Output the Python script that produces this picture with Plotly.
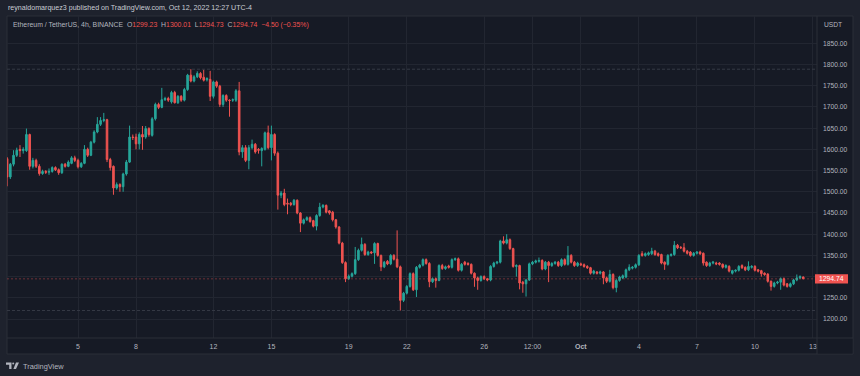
import pandas as pd
import plotly.graph_objects as go

# ---------------- data (ETH/USDT 4h, BINANCE) ----------------
start_time = "2022-09-01 08:00"
n_candles = 248

open_ = [
    1578,1535,1565,1586,1600,1597,1597,1635,1560,1574,
    1560,1543,1548,1546,1548,1557,1552,1545,1565,1560,
    1567,1580,1574,1559,1567,1600,1586,1617,1641,1659,
    1668,1670,1576,1560,1509,1517,1512,1542,1570,1629,
    1629,1613,1635,1629,1649,1633,1672,1706,1699,1717,
    1720,1712,1734,1710,1725,1716,1741,1775,1761,1771,
    1779,1770,1764,1765,1725,1759,1749,1706,1727,1716,
    1716,1716,1738,1594,1604,1574,1604,1612,1600,1597,
    1600,1639,1604,1635,1591,1492,1497,1473,1473,1470,
    1480,1450,1426,1434,1439,1432,1419,1444,1464,1468,
    1455,1452,1434,1417,1379,1333,1295,1301,1307,1340,
    1362,1376,1352,1358,1356,1378,1350,1323,1336,1330,
    1350,1341,1323,1244,1261,1277,1307,1269,1322,1327,
    1340,1331,1288,1295,1291,1326,1319,1325,1322,1340,
    1342,1315,1334,1331,1329,1308,1297,1291,1300,1295,
    1292,1324,1332,1334,1384,1379,1387,1366,1324,1326,
    1287,1283,1292,1330,1334,1336,1338,1318,1334,1326,
    1331,1334,1326,1340,1329,1350,1334,1326,1330,1328,
    1324,1321,1308,1311,1308,1311,1297,1289,1305,1274,
    1291,1297,1299,1316,1320,1322,1328,1354,1350,1352,
    1354,1360,1354,1352,1334,1329,1350,1352,1374,1369,
    1368,1360,1358,1350,1355,1358,1355,1334,1326,1332,
    1332,1332,1329,1322,1324,1308,1313,1315,1326,1322,
    1316,1322,1324,1316,1314,1308,1306,1289,1277,1285,
    1287,1295,1283,1277,1283,1292,1297,1299.23,
]
high = [
    1582,1568,1598,1604,1610,1605,1649,1637,1580,1578,
    1565,1552,1551,1555,1560,1560,1555,1567,1568,1574,
    1584,1585,1578,1570,1610,1604,1620,1645,1676,1676,
    1686,1672,1580,1562,1522,1520,1545,1575,1656,1635,
    1637,1640,1655,1655,1652,1676,1710,1710,1745,1724,
    1724,1738,1738,1728,1728,1745,1778,1789,1775,1784,
    1782,1788,1770,1785,1762,1762,1752,1730,1730,1718,
    1720,1742,1759,1610,1610,1610,1623,1615,1603,1605,
    1642,1656,1656,1638,1595,1502,1507,1484,1476,1483,
    1482,1452,1437,1442,1442,1434,1447,1474,1471,1470,
    1457,1455,1436,1419,1382,1336,1305,1310,1370,1366,
    1392,1379,1361,1360,1381,1380,1352,1337,1339,1353,
    1353,1409,1326,1264,1280,1310,1310,1325,1330,1343,
    1343,1334,1298,1298,1329,1330,1326,1328,1343,1345,
    1345,1332,1337,1334,1331,1310,1300,1303,1303,1297,
    1327,1335,1337,1387,1395,1400,1390,1368,1329,1328,
    1290,1295,1333,1337,1340,1345,1341,1337,1337,1334,
    1337,1337,1343,1343,1372,1353,1337,1335,1333,1331,
    1327,1323,1316,1313,1314,1313,1300,1316,1308,1294,
    1302,1305,1319,1329,1325,1331,1353,1360,1357,1359,
    1368,1363,1357,1354,1336,1353,1355,1384,1377,1372,
    1379,1363,1360,1358,1360,1361,1357,1336,1335,1337,
    1335,1334,1331,1329,1327,1316,1317,1327,1329,1324,
    1336,1327,1327,1318,1316,1310,1308,1291,1288,1290,
    1298,1298,1285,1286,1295,1305,1303,1300.01,
]
low = [
    1513,1530,1560,1582,1582,1590,1594,1552,1555,1556,
    1538,1540,1542,1540,1545,1549,1540,1542,1557,1558,
    1565,1570,1555,1556,1565,1582,1584,1614,1638,1655,
    1664,1570,1550,1493,1505,1500,1500,1538,1568,1622,
    1600,1600,1599,1625,1630,1630,1668,1695,1697,1714,
    1712,1708,1708,1707,1712,1713,1738,1758,1758,1768,
    1765,1760,1760,1714,1720,1745,1700,1700,1712,1677,
    1712,1712,1586,1580,1570,1553,1600,1590,1590,1560,
    1597,1600,1574,1585,1458,1485,1466,1447,1466,1467,
    1447,1405,1423,1431,1427,1416,1409,1441,1461,1449,
    1446,1430,1413,1376,1330,1287,1292,1298,1304,1337,
    1359,1349,1349,1353,1330,1347,1313,1320,1327,1327,
    1338,1320,1220,1240,1258,1274,1266,1252,1319,1324,
    1328,1275,1285,1274,1289,1316,1316,1319,1319,1337,
    1312,1312,1326,1326,1305,1276,1269,1288,1292,1289,
    1289,1321,1329,1331,1376,1376,1363,1321,1300,1270,
    1262,1253,1290,1327,1331,1333,1315,1315,1287,1323,
    1328,1323,1323,1326,1326,1331,1323,1323,1325,1321,
    1318,1305,1305,1305,1305,1282,1285,1286,1270,1263,
    1288,1294,1296,1313,1317,1319,1325,1347,1347,1349,
    1351,1349,1347,1329,1316,1326,1347,1349,1365,1365,
    1357,1352,1347,1347,1352,1351,1326,1323,1323,1329,
    1327,1326,1319,1319,1310,1305,1310,1312,1318,1313,
    1313,1319,1312,1310,1300,1302,1286,1267,1274,1282,
    1269,1277,1274,1274,1280,1289,1294,1294.73,
]
close = [
    1535,1565,1586,1598,1597,1600,1635,1560,1574,1560,
    1543,1548,1546,1548,1557,1552,1545,1565,1560,1570,
    1580,1574,1559,1567,1600,1586,1617,1641,1659,1668,
    1670,1576,1557,1509,1517,1512,1542,1570,1629,1628,
    1613,1635,1629,1649,1635,1672,1706,1699,1717,1720,
    1716,1734,1710,1725,1716,1741,1775,1761,1771,1779,
    1769,1763,1767,1725,1759,1749,1706,1727,1716,1715,
    1717,1738,1594,1604,1574,1604,1612,1594,1598,1602,
    1639,1604,1635,1591,1492,1497,1470,1471,1470,1480,
    1450,1426,1434,1439,1430,1419,1444,1464,1468,1452,
    1450,1434,1417,1379,1333,1295,1301,1307,1340,1362,
    1376,1352,1358,1356,1378,1350,1323,1334,1330,1350,
    1341,1323,1244,1261,1277,1307,1269,1322,1327,1340,
    1331,1288,1295,1291,1326,1319,1323,1322,1340,1342,
    1315,1329,1329,1329,1308,1297,1291,1300,1295,1292,
    1324,1332,1334,1384,1379,1387,1366,1324,1326,1285,
    1283,1292,1330,1334,1337,1338,1318,1334,1326,1331,
    1334,1326,1340,1329,1350,1334,1326,1332,1328,1324,
    1321,1308,1313,1308,1311,1297,1289,1305,1274,1291,
    1299,1302,1316,1322,1322,1328,1350,1350,1354,1356,
    1360,1352,1350,1332,1329,1350,1352,1374,1368,1368,
    1360,1355,1350,1355,1358,1354,1332,1326,1332,1334,
    1330,1329,1322,1326,1313,1314,1315,1324,1321,1316,
    1324,1324,1315,1313,1307,1305,1289,1277,1285,1287,
    1295,1280,1277,1283,1292,1297,1300,1294.74,
]

x_tick_dates = ["2022-09-05", "2022-09-08", "2022-09-12", "2022-09-15", "2022-09-19",
                "2022-09-22", "2022-09-26", "2022-09-28 12:00", "2022-10-01", "2022-10-04",
                "2022-10-07", "2022-10-10", "2022-10-13"]
x_tick_labels = ["5", "8", "12", "15", "19", "22", "26", "12:00", "<b>Oct</b>", "4", "7", "10", "13"]
y_ticks = [1200, 1250, 1300, 1350, 1400, 1450, 1500, 1550, 1600, 1650, 1700, 1750, 1800, 1850]
# the 1300.00 label is hidden behind the last-price tag on the original
y_tick_labels = ["" if v == 1300 else f"{v:.2f}" for v in y_ticks]

header_text = "reynaldomarquez3 published on TradingView.com, Oct 12, 2022 12:27 UTC-4"
symbol_text = "Ethereum / TetherUS, 4h, BINANCE"
change_text = "\u22124.50 (\u22120.35%)"

# ---------------- styling ----------------
OUTER = "#1e222d"
PANEL = "#161a25"
GRID = "#222631"
BORDER = "#2a2e39"
TEXT = "#b2b5be"
UP = "#26a69a"
DOWN = "#ef5350"
FONT = "Liberation Sans, Arial, sans-serif"

W, H = 860, 376
PL, PR, PT, PB = 7, 817, 16, 338   # plot area in pixels


def px(x):
    return (x - PL) / (PR - PL)


def py(y):
    return (PB - y) / (PB - PT)


times = pd.date_range(start_time, periods=n_candles, freq="4h")

fig = go.Figure()
fig.add_trace(go.Candlestick(
    x=times, open=open_, high=high, low=low, close=close,
    increasing=dict(line=dict(color=UP, width=1), fillcolor=UP),
    decreasing=dict(line=dict(color=DOWN, width=1), fillcolor=DOWN),
    whiskerwidth=0, hoverinfo="skip", showlegend=False,
))

last_price = close[-1]
hi_all = max(high)
lo_all = min(low)

shapes = [
    # panel background + border
    dict(type="rect", xref="paper", yref="paper", x0=px(7), x1=px(853), y0=py(354), y1=py(16),
         fillcolor=PANEL, line=dict(color=BORDER, width=1), layer="below"),
    # high / low dashed lines
    dict(type="line", xref="paper", yref="y", x0=0, x1=1, y0=hi_all, y1=hi_all,
         line=dict(color="#363a46", width=1, dash="3px,2px")),
    dict(type="line", xref="paper", yref="y", x0=0, x1=1, y0=lo_all, y1=lo_all,
         line=dict(color="#363a46", width=1, dash="3px,2px")),
    # last price dotted line
    dict(type="line", xref="paper", yref="y", x0=0, x1=1, y0=last_price, y1=last_price,
         line=dict(color="rgba(239,83,80,0.4)", width=1, dash="2px,2px")),
    # cover for the time-axis corner (clips the last tick label)
    dict(type="rect", xref="paper", yref="paper", x0=px(817.5), x1=px(852.5), y0=py(353.5), y1=py(338.5),
         fillcolor=PANEL, line=dict(width=0), layer="above"),
    # separators
    dict(type="line", xref="paper", yref="paper", x0=px(817), x1=px(817), y0=py(354), y1=py(16),
         line=dict(color=BORDER, width=1), layer="above"),
    dict(type="line", xref="paper", yref="paper", x0=px(7), x1=px(853), y0=py(338), y1=py(338),
         line=dict(color=BORDER, width=1), layer="above"),
    # last price label box
    dict(type="rect", xref="paper", yref="y", x0=px(815), x1=px(848),
         y0=last_price - 4.6 / 0.4242, y1=last_price + 4.6 / 0.4242,
         fillcolor="#f05350", line=dict(width=0), layer="above"),
]


# TradingView logo glyph
def path(pts):
    return "M " + " L ".join(f"{px(a):.5f},{py(b):.5f}" for a, b in pts) + " Z"


shapes += [
    dict(type="path", xref="paper", yref="paper",
         path=path([(6, 362.5), (11.5, 362.5), (11.5, 369), (9.2, 369), (9.2, 364.7), (6, 364.7)]),
         fillcolor=TEXT, line=dict(width=0)),
    dict(type="circle", xref="paper", yref="paper", x0=px(12.2), x1=px(14.2), y0=py(364.6), y1=py(362.6),
         fillcolor=TEXT, line=dict(width=0)),
    dict(type="path", xref="paper", yref="paper",
         path=path([(16.0, 362.5), (19.0, 362.5), (16.0, 369), (13.4, 369)]),
         fillcolor=TEXT, line=dict(width=0)),
]

red = lambda s: f"<span style='color:{DOWN}'>{s}</span>"
legend_html = (f"{symbol_text}  O{red(f'{open_[-1]:.2f}')}  H{red(f'{high[-1]:.2f}')}"
               f"  L{red(f'{low[-1]:.2f}')}  C{red(f'{close[-1]:.2f}')}  {red(change_text)}")

annotations = [
    dict(text=header_text, xref="paper", yref="paper", x=px(6), y=py(8.5), xanchor="left",
         yanchor="middle", showarrow=False, font=dict(size=7.1, color="#c9ccd3", family=FONT)),
    dict(text=legend_html, xref="paper", yref="paper", x=px(11), y=py(25), xanchor="left",
         yanchor="middle", showarrow=False, font=dict(size=6.9, color=TEXT, family=FONT)),
    dict(text="USDT", xref="paper", yref="paper", x=px(822), y=py(24.5), xanchor="left",
         yanchor="middle", showarrow=False, font=dict(size=6.7, color=TEXT, family=FONT)),
    dict(text=f"{last_price:.2f}", xref="paper", yref="y", x=px(831.5), y=last_price,
         xanchor="center", yanchor="middle", showarrow=False,
         font=dict(size=6.8, color="#ffffff", family=FONT)),
    dict(text="TradingView", xref="paper", yref="paper", x=px(20.5), y=py(366), xanchor="left",
         yanchor="middle", showarrow=False, font=dict(size=7.4, color=TEXT, family=FONT)),
]

fig.update_layout(
    width=W, height=H,
    margin=dict(l=PL, r=W - PR, t=PT, b=H - PB, pad=0),
    paper_bgcolor=OUTER, plot_bgcolor=PANEL,
    font=dict(family=FONT, color=TEXT, size=7),
    shapes=shapes, annotations=annotations,
    showlegend=False, hovermode=False,
    boxgap=0.3, boxgroupgap=0.3,
    xaxis=dict(
        type="date", range=["2022-09-01 07:53", "2022-10-13 05:04"],
        tickvals=x_tick_dates, ticktext=x_tick_labels,
        tickfont=dict(size=7, color=TEXT, family=FONT),
        showgrid=True, gridcolor=GRID, gridwidth=1,
        zeroline=False, showline=False, ticks="",
        ticklabelstandoff=3,
        rangeslider=dict(visible=False), fixedrange=True,
    ),
    yaxis=dict(
        side="right", range=[1155.3, 1914.4],
        tickvals=y_ticks, ticktext=y_tick_labels,
        tickfont=dict(size=6.7, color=TEXT, family=FONT),
        showgrid=True, gridcolor=GRID, gridwidth=1,
        zeroline=False, showline=False, ticks="",
        ticklabelstandoff=5, fixedrange=True,
    ),
)

fig.write_html("out.html", config={"displayModeBar": False},
               post_script="document.body.style.margin='0';document.body.style.background='#1e222d';")
